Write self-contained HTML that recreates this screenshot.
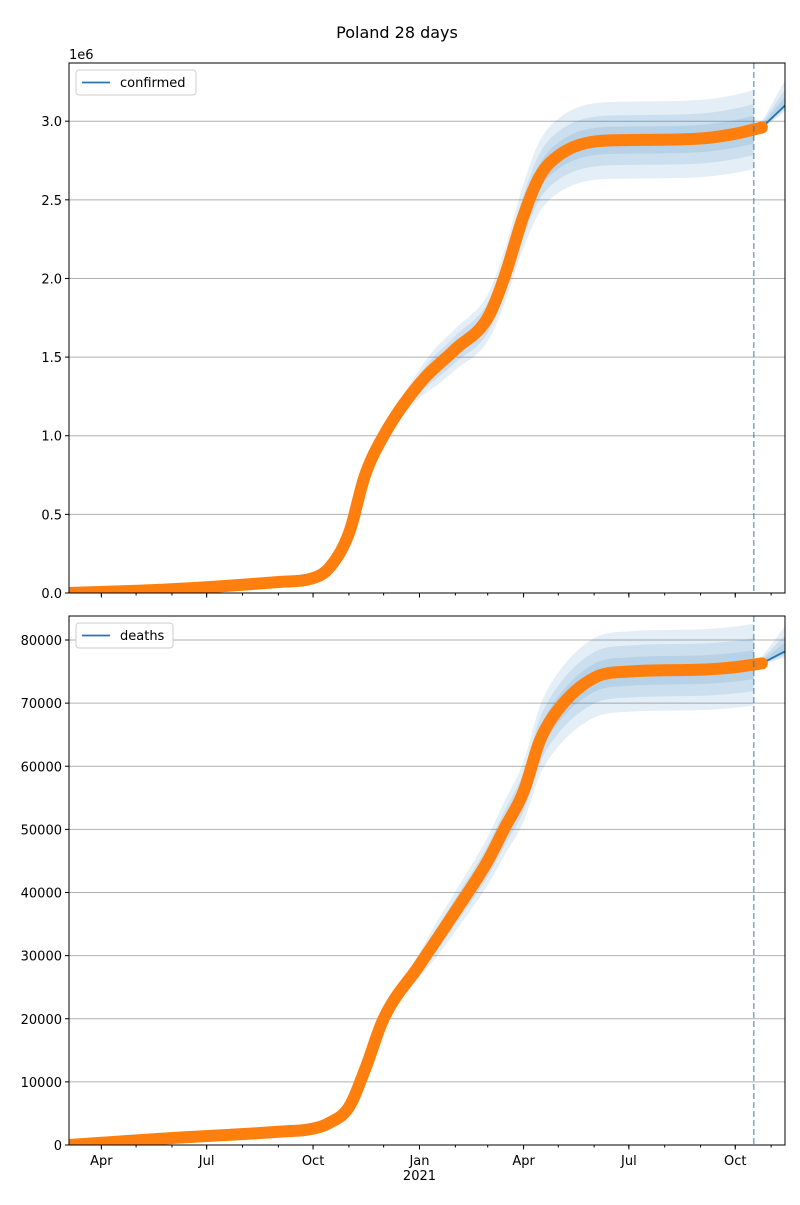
<!DOCTYPE html>
<html><head><meta charset="utf-8"><style>
body{margin:0;background:#fff;font-family:"Liberation Sans","DejaVu Sans",sans-serif}
svg text{font-family:"DejaVu Sans","Liberation Sans",sans-serif;font-size:13px;fill:#000}
</style></head><body>
<svg id="s" width="800" height="1200" xmlns="http://www.w3.org/2000/svg">
<rect width="800" height="1200" fill="#fff"/>
<text x="397" y="38" text-anchor="middle" style="font-size:16px">Poland 28 days</text>
</svg>
<script>
const confDates=["2020-03-04","2020-06-01","2020-09-01","2020-10-01","2020-10-15","2020-11-01","2020-11-15","2020-12-01","2021-01-01","2021-02-01","2021-03-01","2021-03-15","2021-04-01","2021-04-15","2021-05-01","2021-06-01","2021-07-01","2021-09-01","2021-10-01","2021-10-24"];
const confValues=[0,24000,70000,95000,160000,380000,750000,1000000,1330000,1550000,1750000,2000000,2400000,2650000,2780000,2870000,2880000,2890000,2920000,2960000];
const deathValues=[0,1100,2100,2600,3500,6000,12000,20000,28500,37000,45000,50000,56000,64000,69000,74000,75000,75300,75700,76300];
const forecastDates=["2021-10-24","2021-11-13"];
const confForecast=[2960000,3100000];
const deathForecast=[76300,78200];
const bandFractions=[0.085,0.055,0.03];
const bandStart="2020-11-01", bandFull="2021-01-15", bandEnd="2021-10-17";
const cutoffDate="2021-10-17";
const yTicksTop=[0,0.5,1.0,1.5,2.0,2.5,3.0];
const yTicksBot=[0,10000,20000,30000,40000,50000,60000,70000,80000];
const majorTicks=[["2020-04-01","Apr"],["2020-07-01","Jul"],["2020-10-01","Oct"],["2021-01-01","Jan"],["2021-04-01","Apr"],["2021-07-01","Jul"],["2021-10-01","Oct"]];

const S=document.getElementById('s'),NS="http://www.w3.org/2000/svg";
const D=s=>Date.parse(s)/864e5;
const X0=69,X1=785,d0=D("2020-03-04"),d1=D("2021-11-13");
const xs=d=>X0+(D(d)-d0)/(d1-d0)*(X1-X0);
const xd=t=>X0+(t-d0)/(d1-d0)*(X1-X0);
function el(t,a,p){const e=document.createElementNS(NS,t);for(const k in a)e.setAttribute(k,a[k]);(p||S).appendChild(e);return e;}
// monotone cubic (Fritsch-Carlson) interpolation
function interp(dates,vals,t){
  const x=dates.map(D),y=vals,n=x.length;
  if(t<=x[0])return y[0];if(t>=x[n-1])return y[n-1];
  const dl=[],m=[];
  for(let i=0;i<n-1;i++)dl.push((y[i+1]-y[i])/(x[i+1]-x[i]));
  m[0]=dl[0];m[n-1]=dl[n-2];
  for(let i=1;i<n-1;i++){m[i]=(dl[i-1]*dl[i]<=0)?0:(dl[i-1]+dl[i])/2;}
  for(let i=0;i<n-1;i++){if(dl[i]===0){m[i]=0;m[i+1]=0;continue;}const a=m[i]/dl[i],b=m[i+1]/dl[i],s=a*a+b*b;if(s>9){const k=3/Math.sqrt(s);m[i]=k*a*dl[i];m[i+1]=k*b*dl[i];}}
  let i=0;while(t>x[i+1])i++;
  const h=x[i+1]-x[i],u=(t-x[i])/h,u2=u*u,u3=u2*u;
  return (2*u3-3*u2+1)*y[i]+(u3-2*u2+u)*h*m[i]+(-2*u3+3*u2)*y[i+1]+(u3-u2)*h*m[i+1];
}
let clipN=0;
function panel(top,bot,ymax,yv,vals,fc,ticks,tickFmt,label,showX,nm){
  const ys=v=>bot-v/ymax*(bot-top);
  const g=el('g',{});
  
  
  const cid='clip'+(clipN++);
  const cp=el('clipPath',{id:cid},g);el('rect',{x:X0,y:top,width:X1-X0,height:bot-top},cp);
  ticks.forEach(t=>{const y=ys(t*yv);
    const l=el('line',{x1:X0,x2:X1,y1:y,y2:y,stroke:'#b0b0b0','stroke-width':1},g);
    
    el('line',{x1:X0-4,x2:X0,y1:y,y2:y,stroke:'#000'},g);
    const tx=el('text',{x:X0-7,y:y+5,'text-anchor':'end'},g);tx.textContent=tickFmt(t);
    
  });
  const pg=el('g',{'clip-path':'url(#'+cid+')'},g);
  const bs=D(bandStart),bf=D(bandFull),be=D(bandEnd),ff=D(forecastDates[1]);
  bandFractions.forEach((fr,i)=>{
    let up=[],lo=[];
    for(let t=bs;t<=be;t++){const v=interp(confDates,vals,t);const r=Math.min(1,(t-bs)/(bf-bs));up.push([xd(t),ys(v*(1+fr*r))]);lo.push([xd(t),ys(v*(1-fr*r))]);}
    const b=el('polygon',{points:up.concat(lo.reverse()).map(p=>p.join(',')).join(' '),fill:'#1f77b4','fill-opacity':0.12},pg);
    
    let u2=[],l2=[];
    for(let t=be;t<=ff;t++){const v=interp(forecastDates,fc,t);const r=(t-be)/(ff-be);u2.push([xd(t),ys(v*(1+fr*r*0.6))]);l2.push([xd(t),ys(v*(1-fr*r*0.15))]);}
    const b2=el('polygon',{points:u2.concat(l2.reverse()).map(p=>p.join(',')).join(' '),fill:'#1f77b4','fill-opacity':0.12},pg);
    
  });
  let mp=[];for(let t=bs;t<=D("2021-10-24");t++)mp.push(xd(t)+','+ys(interp(confDates,vals,t)));
  for(let t=D("2021-10-24");t<=ff;t++)mp.push(xd(t)+','+ys(interp(forecastDates,fc,t)));
  const ml=el('polyline',{points:mp.join(' '),fill:'none',stroke:'#1f77b4','stroke-width':1.8},pg);
  
  let op=[];for(let t=D(confDates[0]);t<=D(confDates[confDates.length-1]);t++)op.push(xd(t)+','+ys(interp(confDates,vals,t)));
  const ol=el('polyline',{points:op.join(' '),fill:'none',stroke:'#ff7f0e','stroke-width':12,'stroke-linecap':'round','stroke-linejoin':'round'},pg);
  
  const cx=xs(cutoffDate);
  const cl=el('line',{x1:cx,x2:cx,y1:top,y2:bot,stroke:'#1f77b4','stroke-opacity':0.6,'stroke-width':1.6,'stroke-dasharray':'6,3'},pg);
  
  el('rect',{x:X0,y:top,width:X1-X0,height:bot-top,fill:'none',stroke:'#000','stroke-width':1},g);
  for(let y=2020;y<=2021;y++)for(let m=0;m<12;m++){const t=Date.UTC(y,m,1)/864e5;if(t<d0||t>d1)continue;const x=xd(t);el('line',{x1:x,x2:x,y1:bot,y2:bot+2.5,stroke:'#000'},g);}
  majorTicks.forEach(([d,l])=>{const x=xs(d);el('line',{x1:x,x2:x,y1:bot,y2:bot+4.5,stroke:'#000'},g);
    if(showX){const t=el('text',{x:x,y:bot+20,'text-anchor':'middle'},g);t.textContent=l;}});
  if(showX){const t=el('text',{x:xs("2021-01-01"),y:bot+35,'text-anchor':'middle'},g);t.textContent='2021';}
  const lg=el('g',{},g);
  
  const w=label==='confirmed'?120:97;
  el('rect',{x:76,y:top+7,width:w,height:25,rx:3,fill:'#fff',stroke:'#ccc'},lg);
  el('line',{x1:82,x2:110,y1:top+19.5,y2:top+19.5,stroke:'#1f77b4','stroke-width':1.8},lg);
  const lt=el('text',{x:120,y:top+24},lg);lt.textContent=label;
}
panel(63,593,3.37e6,1e6,confValues,confForecast,yTicksTop,t=>t.toFixed(1),'confirmed',false,'confirmed');
const e6=el('text',{x:69,y:59});e6.textContent='1e6';


panel(616,1145,(1145-616)/6.3125*1000,1,deathValues,deathForecast,yTicksBot,t=>String(t),'deaths',true,'deaths');
</script>
</body></html>
